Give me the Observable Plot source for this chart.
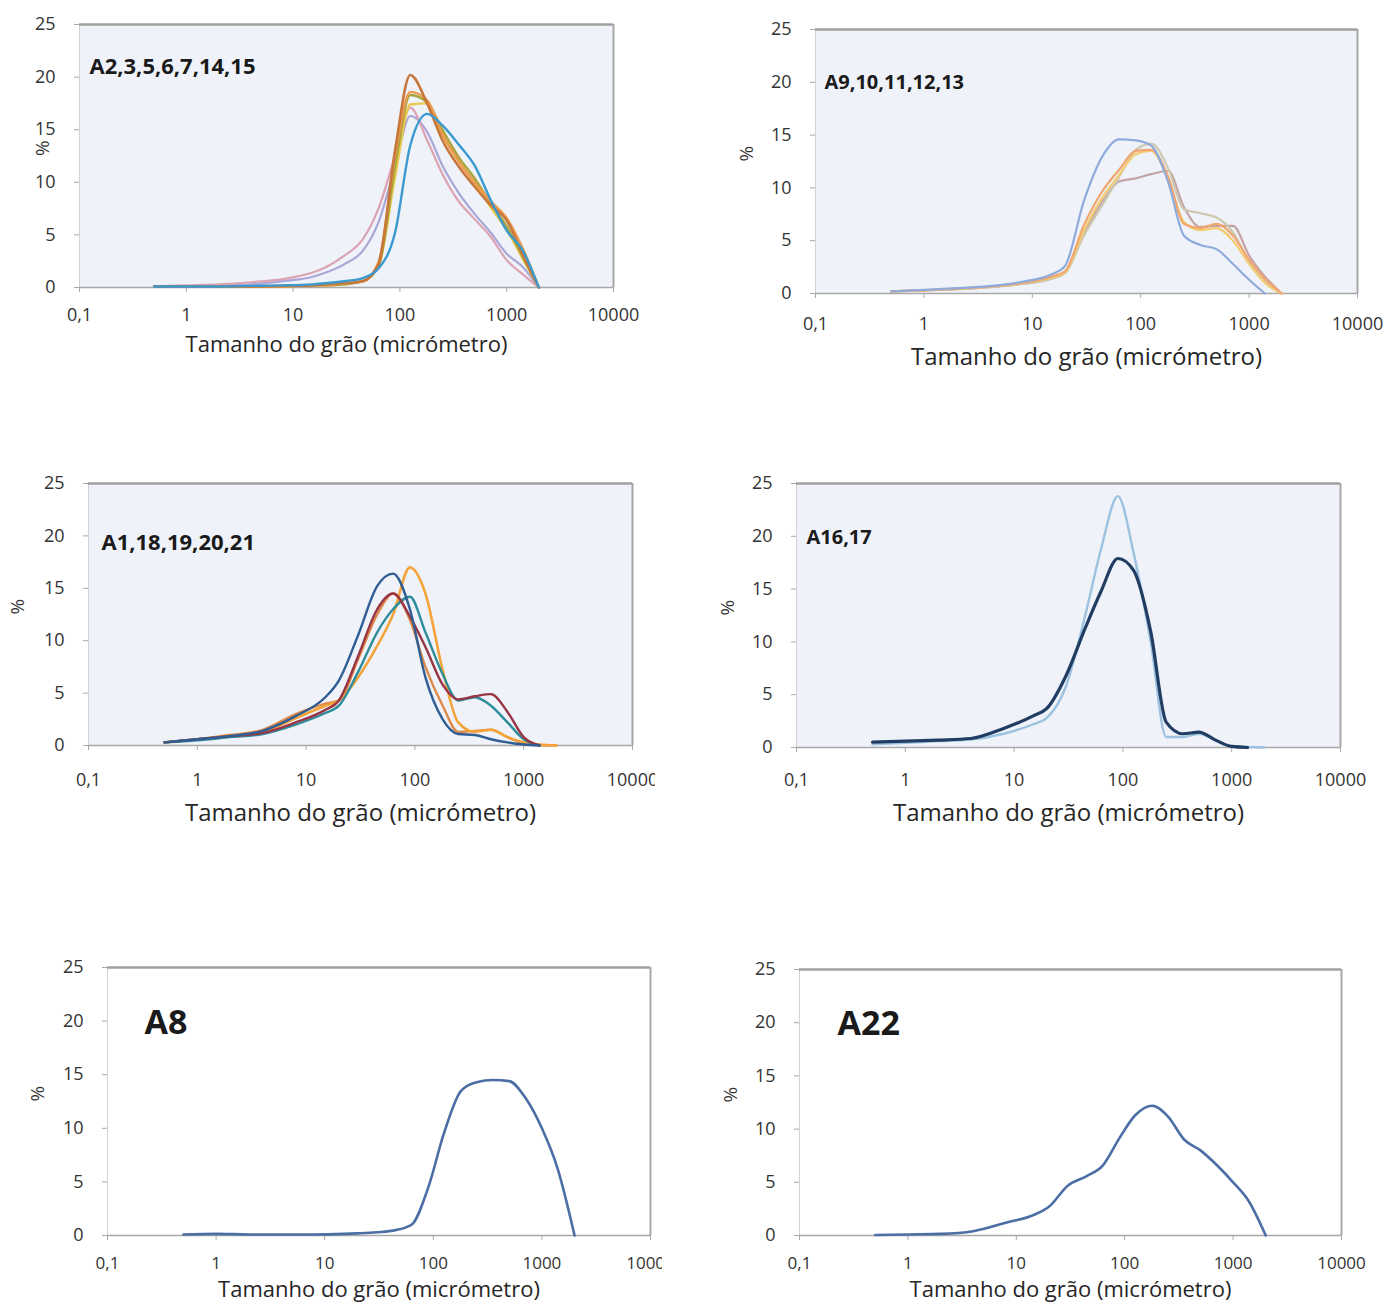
<!DOCTYPE html>
<html>
<head>
<meta charset="utf-8">
<script src="https://cdn.jsdelivr.net/npm/d3@7"></script>
<script src="https://cdn.jsdelivr.net/npm/@observablehq/plot@0.6"></script>
<style>
  html, body { margin: 0; padding: 0; background: #ffffff; }
  #page { position: relative; width: 1389px; height: 1303px; overflow: hidden; background: #ffffff; font-family: "Open Sans", sans-serif; }
  .panel { position: absolute; overflow: hidden; }
  .panel svg { display: block; max-width: none !important; }
</style>
</head>
<body>
<div id="page"></div>
<script>
// ---------- shared axis data ----------
const sizes = [0.5, 1, 2, 4, 8, 15, 20, 30, 45, 63, 90, 125, 180, 250, 355, 500, 710, 1000, 1400, 2000];
const xTickValues = [0.1, 1, 10, 100, 1000, 10000];
const xTickLabels = ["0,1", "1", "10", "100", "1000", "10000"];
const yTickValues = [0, 5, 10, 15, 20, 25];
const xTitle = "Tamanho do grão (micrómetro)";
const yTitle = "%";
const panelTitles = ["A2,3,5,6,7,14,15", "A9,10,11,12,13", "A1,18,19,20,21", "A16,17", "A8", "A22"];

// ---------- panel 1: A2,3,5,6,7,14,15 ----------
const p1Names = ["A2", "A3", "A5", "A6", "A7", "A14", "A15"];
const p1_a = [0.1, 0.1, 0.2, 0.3, 0.6, 1.0, 1.4, 2.2, 3.5, 6.2, 11.5, 16.3, 14.8, 11.6, 9.0, 7.0, 5.2, 3.2, 2.0, 0];
const p1_b = [0.1, 0.2, 0.3, 0.5, 0.8, 1.4, 1.9, 3.0, 4.6, 7.5, 12.5, 17.1, 14.0, 10.8, 8.2, 6.5, 4.8, 2.6, 1.3, 0];
const p1_c = [0.1, 0.1, 0.1, 0.1, 0.1, 0.2, 0.2, 0.3, 0.6, 2.0, 10.5, 17.4, 17.5, 14.5, 12.0, 10.0, 7.6, 5.5, 2.8, 0];
const p1_d = [0.1, 0.1, 0.1, 0.1, 0.1, 0.2, 0.2, 0.3, 0.6, 2.0, 11.5, 18.3, 17.6, 15.0, 12.4, 10.4, 8.0, 5.8, 3.0, 0];
const p1_e = [0.1, 0.1, 0.1, 0.1, 0.1, 0.2, 0.2, 0.4, 0.6, 2.4, 12.5, 18.6, 17.8, 14.6, 12.0, 10.0, 8.2, 6.6, 3.8, 0];
const p1_f = [0.1, 0.1, 0.1, 0.1, 0.15, 0.2, 0.3, 0.4, 0.6, 2.2, 13.0, 20.2, 17.5, 14.0, 11.5, 9.6, 7.8, 6.4, 3.2, 0];
const p1_g = [0.1, 0.1, 0.1, 0.15, 0.2, 0.3, 0.4, 0.6, 0.9, 1.8, 5.2, 13.5, 16.5, 15.4, 13.6, 11.6, 8.3, 5.4, 3.6, 0];
const p1Colors = ["#a9a6d8", "#dba3b3", "#e9c94e", "#a7a43c", "#eb9a4e", "#c8773c", "#3a9ad0"];

// ---------- panel 2: A9,10,11,12,13 ----------
const p2Names = ["A9", "A10", "A11", "A12", "A13"];
const p2_a = [0.2, 0.3, 0.4, 0.6, 0.9, 1.4, 2.0, 5.8, 8.8, 10.6, 10.9, 11.3, 11.6, 8.2, 6.3, 6.4, 6.4, 3.6, 1.6, 0];
const p2_b = [0.2, 0.3, 0.4, 0.6, 0.9, 1.4, 1.9, 5.5, 8.5, 11.0, 13.6, 14.2, 11.8, 8.0, 7.6, 7.2, 5.8, 3.0, 1.2, 0];
const p2_c = [0.2, 0.3, 0.45, 0.65, 1.0, 1.5, 2.0, 6.0, 9.2, 11.2, 13.2, 13.5, 10.8, 6.8, 6.0, 6.2, 5.0, 2.8, 1.0, 0];
const p2_d = [0.2, 0.3, 0.45, 0.65, 1.0, 1.6, 2.1, 6.5, 9.8, 11.7, 13.5, 13.6, 11.0, 6.6, 6.2, 6.6, 5.5, 3.2, 1.4, 0];
const p2_e = [0.2, 0.35, 0.5, 0.7, 1.1, 1.8, 2.6, 8.8, 13.1, 14.6, 14.5, 14.0, 10.5, 5.5, 4.6, 4.2, 2.8, 1.3, 0, null];
const p2Colors = ["#c4a3a6", "#cdc9b0", "#f3cc72", "#f2a56e", "#8fabdc"];

// ---------- panel 3: A1,18,19,20,21 ----------
const p3Names = ["A1", "A18", "A19", "A20", "A21"];
const p3_a = [0.3, 0.6, 1.0, 1.5, 3.0, 4.0, 4.3, 8.2, 12.5, 14.5, 12.0, 7.5, 3.8, 1.3, 1.4, 1.5, 0.8, 0.2, 0.05, 0];
const p3_b = [0.3, 0.6, 0.9, 1.3, 2.6, 3.8, 4.3, 6.5, 9.5, 12.5, 17.0, 14.5, 7.2, 2.2, 1.3, 1.5, 0.8, 0.3, 0.1, 0];
const p3_c = [0.3, 0.5, 0.8, 1.1, 2.0, 3.1, 3.8, 7.0, 10.8, 13.0, 14.2, 10.8, 6.8, 4.3, 4.6, 3.8, 2.2, 0.6, 0, null];
const p3_d = [0.3, 0.6, 0.9, 1.2, 2.2, 3.4, 4.3, 8.5, 13.0, 14.5, 12.3, 9.4, 5.8, 4.4, 4.7, 4.9, 3.2, 0.8, 0, null];
const p3_e = [0.3, 0.6, 0.9, 1.4, 2.8, 4.6, 6.2, 10.5, 15.2, 16.4, 13.0, 6.5, 2.5, 1.1, 1.0, 0.6, 0.3, 0.1, 0, null];
const p3Colors = ["#dd8a4a", "#f4a43a", "#2e8c9b", "#993545", "#2f5d94"];

// ---------- panel 4: A16,17 ----------
const p4Names = ["A16", "A17"];
const p4_a = [0.3, 0.45, 0.6, 0.75, 1.3, 2.2, 2.8, 5.8, 12.5, 18.8, 23.8, 18.5, 10.0, 1.0, 1.0, 1.3, 0.7, 0.1, 0.05, 0];
const p4_b = [0.5, 0.6, 0.7, 0.85, 1.8, 3.0, 3.7, 6.8, 11.3, 14.8, 17.9, 16.8, 11.0, 2.4, 1.3, 1.45, 0.7, 0.1, 0, null];
const p4Colors = ["#9dc2e0", "#213d63"];

// ---------- panel 5: A8 ----------
const p5Names = ["A8"];
const p5_a = [0.1, 0.15, 0.1, 0.1, 0.1, 0.15, 0.2, 0.3, 0.5, 1.0, 4.5, 9.5, 13.5, 14.3, 14.5, 14.4, 12.8, 10.0, 6.2, 0];
const p5Colors = ["#4b6ea4"];

// ---------- panel 6: A22 ----------
const p6Names = ["A22"];
const p6_a = [0.05, 0.1, 0.15, 0.4, 1.2, 2.0, 2.7, 4.7, 5.6, 6.6, 9.2, 11.3, 12.2, 11.2, 9.0, 8.0, 6.6, 5.0, 3.2, 0];
const p6Colors = ["#4b6ea4"];

// ---------- layout (pixel positions of each plot frame on the page) ----------
const layout = [
  {left: 79,  top: 24,  right: 613,  bottom: 287,  bg: "#eff3f9", yLabelDx: 37, xTickPad: 16, xTickSize: 18, xTitleDy: 57, xTitleSize: 22, titleDx: 10, titleDy: 42, titleSize: 22, clipRight: null, lineW: [2.2, 2.2, 2.4, 2.4, 2.4, 2.6, 2.4]},
  {left: 815, top: 29,  right: 1357, bottom: 293,  bg: "#eff3f9", yLabelDx: 69, xTickPad: 19, xTickSize: 18, xTitleDy: 64, xTitleSize: 24, titleDx: 9,  titleDy: 53, titleSize: 20, clipRight: null, lineW: [2.2, 2.2, 2.2, 2.2, 2.2]},
  {left: 88,  top: 483, right: 632,  bottom: 745,  bg: "#eff3f9", yLabelDx: 71, xTickPad: 23, xTickSize: 18, xTitleDy: 68, xTitleSize: 24, titleDx: 13, titleDy: 59, titleSize: 22, clipRight: 655, lineW: [2.4, 2.6, 2.4, 2.4, 2.4]},
  {left: 796, top: 483, right: 1340, bottom: 747,  bg: "#eff3f9", yLabelDx: 69, xTickPad: 21, xTickSize: 18, xTitleDy: 66, xTitleSize: 24, titleDx: 10, titleDy: 54, titleSize: 20, clipRight: null, lineW: [2.4, 3.2]},
  {left: 107, top: 967, right: 650,  bottom: 1235, bg: "#ffffff", yLabelDx: 70, xTickPad: 16, xTickSize: 17, xTitleDy: 54, xTitleSize: 22, titleDx: 37, titleDy: 56, titleSize: 34, clipRight: 662, lineW: [2.6]},
  {left: 799, top: 969, right: 1341, bottom: 1235, bg: "#ffffff", yLabelDx: 69, xTickPad: 16, xTickSize: 17, xTitleDy: 54, xTitleSize: 22, titleDx: 38, titleDy: 55, titleSize: 34, clipRight: null, lineW: [2.6]}
];

const panels = [
  {names: p1Names, values: [p1_a, p1_b, p1_c, p1_d, p1_e, p1_f, p1_g], colors: p1Colors},
  {names: p2Names, values: [p2_a, p2_b, p2_c, p2_d, p2_e], colors: p2Colors},
  {names: p3Names, values: [p3_a, p3_b, p3_c, p3_d, p3_e], colors: p3Colors},
  {names: p4Names, values: [p4_a, p4_b], colors: p4Colors},
  {names: p5Names, values: [p5_a], colors: p5Colors},
  {names: p6Names, values: [p6_a], colors: p6Colors}
];

const tickLabelOf = new Map(xTickValues.map((v, i) => [v, xTickLabels[i]]));
const M = {left: 90, top: 14, right: 40, bottom: 85};
const page = document.getElementById("page");

panels.forEach((p, k) => {
  const L = layout[k];
  const w = (L.right - L.left) + M.left + M.right;
  const h = (L.bottom - L.top) + M.top + M.bottom;
  const xMin = xTickValues[0], xMax = xTickValues[xTickValues.length - 1];
  const yMin = yTickValues[0], yMax = yTickValues[yTickValues.length - 1];

  const lineMarks = p.names.map((name, j) => {
    const rows = sizes.map((x, i) => ({x, y: p.values[j][i], s: name})).filter(d => d.y != null);
    return Plot.line(rows, {x: "x", y: "y", stroke: p.colors[j], strokeWidth: L.lineW[j], curve: "monotone-x", strokeLinejoin: "round", strokeLinecap: "round"});
  });

  const chart = Plot.plot({
    width: w,
    height: h,
    marginLeft: M.left,
    marginTop: M.top,
    marginRight: M.right,
    marginBottom: M.bottom,
    style: {fontFamily: "'Open Sans', sans-serif", fontSize: "18px", color: "#333333", background: "transparent", overflow: "visible", maxWidth: "none"},
    x: {type: "log", domain: [xMin, xMax]},
    y: {domain: [yMin, yMax]},
    marks: [
      Plot.frame({fill: L.bg, stroke: null}),
      Plot.ruleX([xMin], {stroke: "#d2d2d2", strokeWidth: 1}),
      Plot.ruleY([yMin], {stroke: "#a8a8a8", strokeWidth: 1.6}),
      Plot.ruleY([yMax], {stroke: "#a0a0a0", strokeWidth: 2.6}),
      Plot.ruleX([xMax], {stroke: "#a8a8a8", strokeWidth: 2}),
      Plot.axisX({ticks: xTickValues, tickFormat: d => tickLabelOf.get(d), tickSize: 5, tickPadding: L.xTickPad, stroke: "#a8a8a8", fill: "#333333", label: null, fontSize: L.xTickSize}),
      Plot.axisY({ticks: yTickValues, tickSize: 5, tickPadding: 19, stroke: "#a8a8a8", fill: "#333333", label: null, fontSize: 18}),
      ...lineMarks,
      Plot.text([panelTitles[k]], {frameAnchor: "top-left", dx: L.titleDx, dy: L.titleDy, textAnchor: "start", lineAnchor: "middle", fontWeight: "bold", fontSize: L.titleSize, fill: "#1a1a1a"}),
      Plot.text([xTitle], {frameAnchor: "bottom", dy: L.xTitleDy, lineAnchor: "middle", fontSize: L.xTitleSize, fill: "#262626"}),
      Plot.text([yTitle], {frameAnchor: "left", dx: -L.yLabelDx, rotate: -90, lineAnchor: "middle", fontSize: 19, fill: "#333333"})
    ]
  });

  const wrap = document.createElement("div");
  wrap.className = "panel";
  const x0 = L.left - M.left, y0 = L.top - M.top;
  wrap.style.left = x0 + "px";
  wrap.style.top = y0 + "px";
  wrap.style.width = (L.clipRight ? (L.clipRight - x0) : w) + "px";
  wrap.style.height = h + "px";
  wrap.appendChild(chart);
  page.appendChild(wrap);
});
</script>
</body>
</html>
